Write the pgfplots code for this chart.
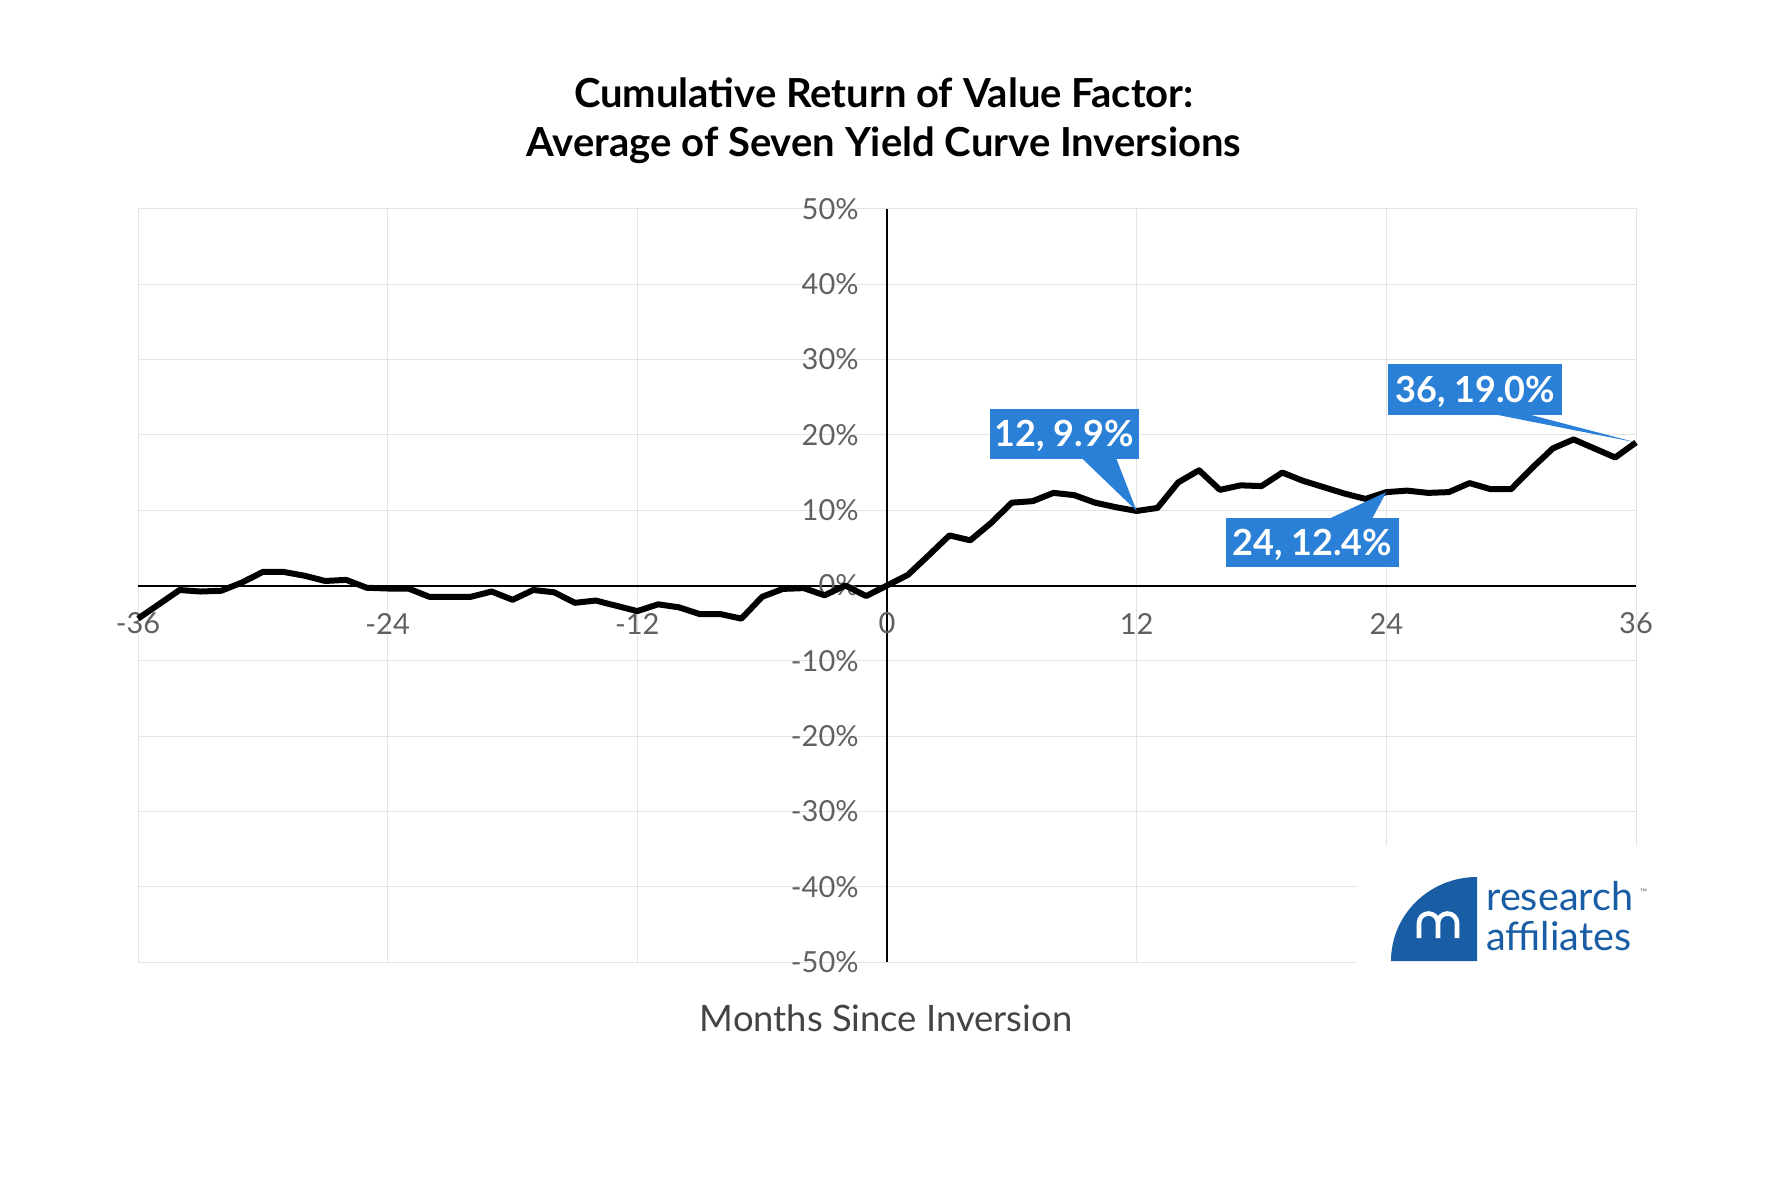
\documentclass[border=0pt]{standalone}
\usepackage{fontspec}
\setmainfont{Lato}
\usepackage{pgfplots}
\pgfplotsset{compat=1.18}
\definecolor{gridgray}{HTML}{E4E4E4}
\definecolor{tickgray}{HTML}{606060}
\definecolor{labelgray}{HTML}{444444}
\definecolor{annoblue}{HTML}{2A80D6}
\definecolor{logoblue}{HTML}{195EA4}

\pgfplotstableread{
m    r
-36 -4.4
-35 -2.5
-34 -0.6
-33 -0.8
-32 -0.7
-31  0.4
-30  1.8
-29  1.8
-28  1.3
-27  0.6
-26  0.75
-25 -0.3
-24 -0.4
-23 -0.4
-22 -1.5
-21 -1.5
-20 -1.5
-19 -0.8
-18 -1.9
-17 -0.6
-16 -0.9
-15 -2.3
-14 -2.0
-13 -2.7
-12 -3.4
-11 -2.5
-10 -2.9
-9  -3.8
-8  -3.8
-7  -4.4
-6  -1.5
-5  -0.45
-4  -0.35
-3  -1.3
-2   0.0
-1  -1.4
0    0.0
1    1.4
2    4.0
3    6.65
4    6.0
5    8.3
6   11.0
7   11.2
8   12.3
9   12.0
10  11.0
11  10.4
12   9.9
13  10.3
14  13.7
15  15.3
16  12.7
17  13.3
18  13.2
19  15.0
20  13.9
21  13.05
22  12.2
23  11.5
24  12.4
25  12.6
26  12.3
27  12.4
28  13.6
29  12.8
30  12.8
31  15.6
32  18.2
33  19.4
34  18.2
35  17.0
36  19.0
}\valuedata

\begin{document}
\begin{tikzpicture}[x=1pt,y=1pt]
\path (0,0) rectangle (883,589.5);

% title
\node[anchor=base, font=\bfseries\fontsize{20}{20}\selectfont] at (442,535.5)
  {Cumulative Return of Value Factor:};
\node[anchor=base, font=\bfseries\fontsize{20}{20}\selectfont] at (442,511)
  {Average of Seven Yield Curve Inversions};

\begin{axis}[
    at={(69pt,108.5pt)}, anchor=south west,
    scale only axis, width=749pt, height=376.5pt,
    xmin=-36, xmax=36, ymin=-50, ymax=50,
    axis lines=middle,
    axis line style={-, black, line width=1pt},
    inner axis line style={-},
    xtick={-36,-24,-12,0,12,24,36},
    ytick={-50,-40,-30,-20,-10,0,10,20,30,40,50},
    xticklabels={-36,-24,-12,0,12,24,36},
    yticklabels={-50\%,-40\%,-30\%,-20\%,-10\%,0\%,10\%,20\%,30\%,40\%,50\%},
    hide obscured x ticks=false, hide obscured y ticks=false,
    major tick length=0pt,
    grid=major,
    major grid style={gridgray, line width=0.5pt},
    tick label style={font=\fontsize{14.5}{14.5}\selectfont, text=tickgray},
    xticklabel style={anchor=center, yshift=-19pt, inner sep=0pt},
    yticklabel style={anchor=east, xshift=-14pt, inner sep=0pt},
    clip=false,
]
\addplot[black, line width=3pt, line join=round] table[x=m, y=r] {\valuedata};

% callouts
\fill[annoblue] (axis cs:4.95,16.8) rectangle (axis cs:12.1,23.5);
\fill[annoblue] (axis cs:9.33,17) -- (axis cs:12,9.9) -- (axis cs:11.0,17) -- cycle;
\node[anchor=base, text=white, font=\bfseries\fontsize{18}{18}\selectfont]
  at (axis cs:8.52,18.42) {12, 9.9\%};

\fill[annoblue] (axis cs:16.3,2.5) rectangle (axis cs:24.6,9.0);
\fill[annoblue] (axis cs:21.2,8.8) -- (axis cs:24,12.4) -- (axis cs:23.3,8.8) -- cycle;
\node[anchor=base, text=white, font=\bfseries\fontsize{18}{18}\selectfont]
  at (axis cs:20.45,4.02) {24, 12.4\%};

\fill[annoblue] (axis cs:24.1,22.7) rectangle (axis cs:32.45,29.45);
\fill[annoblue] (axis cs:28.9,22.9) -- (axis cs:36,19.0) -- (axis cs:30.6,22.9) -- cycle;
\node[anchor=base, text=white, font=\bfseries\fontsize{18}{18}\selectfont]
  at (axis cs:28.27,24.34) {36, 19.0\%};
\end{axis}

% logo
\fill[white] (678.5,104) rectangle (823,166.5);
\fill[logoblue] (738.5,109) -- (695.5,109) arc[start angle=180, end angle=90, x radius=43, y radius=42] -- cycle;
\draw[white, line width=2.3pt]
  (709.5,120.5) -- (709.5,128) arc[start angle=180, end angle=0, radius=4.75] -- (719,120.5)
  (719,128) arc[start angle=180, end angle=0, radius=4.75] -- (728.5,120.5);
\node[anchor=base west, inner sep=0pt, text=logoblue, font=\fontsize{19.8}{17.5}\selectfont] at (743,114.5)
  {\begin{tabular}[b]{@{}l@{}}research\\affiliates\end{tabular}};
\node[anchor=north west, inner sep=0pt, text=tickgray, font=\fontsize{4.5}{4.5}\selectfont] at (820,145) {™};

% x label
\node[anchor=base, text=labelgray, font=\fontsize{18.2}{18.2}\selectfont] at (443,74) {Months Since Inversion};
\end{tikzpicture}
\end{document}
